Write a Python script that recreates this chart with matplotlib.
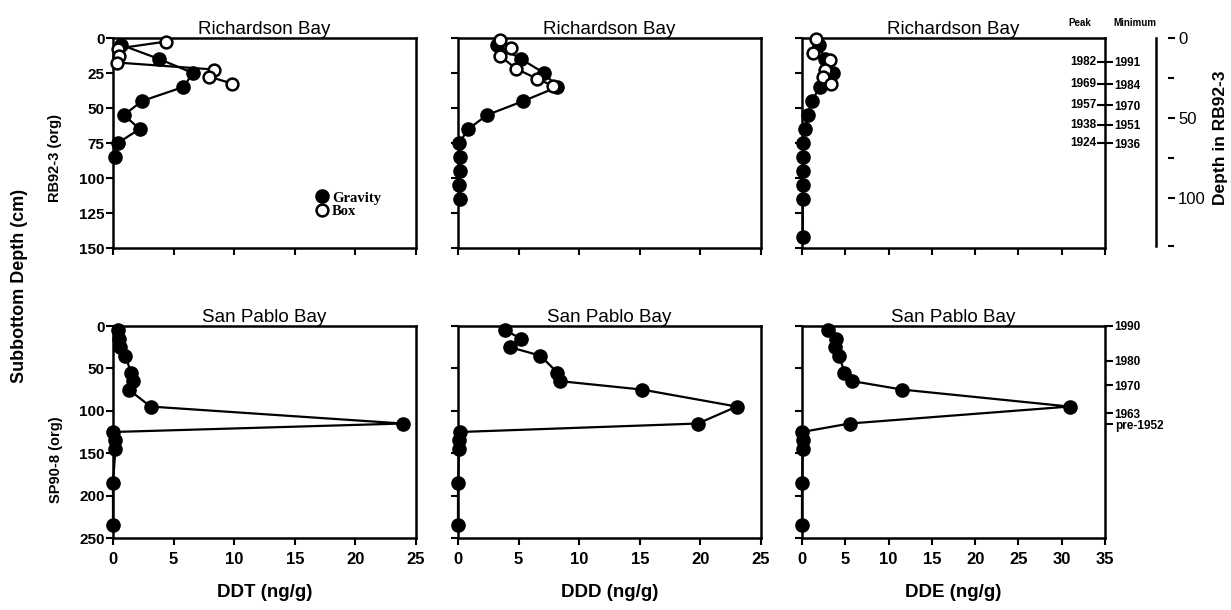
import matplotlib
matplotlib.use('Agg')
import matplotlib.pyplot as plt
from matplotlib.lines import Line2D

plt.rcParams['font.family'] = ['Liberation Sans', 'DejaVu Sans']

# Richardson Bay, core RB92-3 (gravity core, filled) and box core (open)
rb_grav_depth = [5, 15, 25, 35, 45, 55, 65, 75, 85]
rb_grav_ddt = [0.7, 3.8, 6.6, 5.8, 2.4, 0.9, 2.2, 0.4, 0.2]
rb_box_depth = [2.5, 7.5, 12.5, 17.5, 22.5, 27.5, 32.5]
rb_box_ddt = [4.4, 0.4, 0.5, 0.3, 8.3, 7.9, 9.8]

rb_grav_depth_ddd = [5, 15, 25, 35, 45, 55, 65, 75, 85, 95, 105, 115]
rb_grav_ddd = [3.2, 5.2, 7.1, 8.2, 5.4, 2.4, 0.85, 0.1, 0.15, 0.15, 0.1, 0.15]
rb_box_depth_ddd = [1.5, 7, 13, 22, 29, 34]
rb_box_ddd = [3.5, 4.4, 3.5, 4.8, 6.5, 7.8]

rb_grav_depth_dde = [5, 15, 25, 35, 45, 55, 65, 75, 85, 95, 105, 115, 142]
rb_grav_dde = [2.0, 2.6, 3.6, 2.1, 1.1, 0.7, 0.35, 0.1, 0.1, 0.1, 0.1, 0.1, 0.1]
rb_box_depth_dde = [1, 10.5, 16, 22.5, 27.5, 33]
rb_box_dde = [1.6, 1.25, 3.2, 2.6, 2.4, 3.4]

# San Pablo Bay, core SP90-8
sp_depth = [5, 15, 25, 35, 55, 65, 75, 95, 115, 125, 135, 145, 185, 235]
sp_ddt = [0.4, 0.5, 0.6, 1.0, 1.5, 1.65, 1.3, 3.1, 23.9, 0.0, 0.2, 0.2, 0.0, 0.0]
sp_ddd = [3.9, 5.2, 4.3, 6.8, 8.2, 8.4, 15.2, 23.0, 19.8, 0.15, 0.1, 0.1, 0.0, 0.0]
sp_dde = [3.0, 3.9, 3.8, 4.3, 4.9, 5.8, 11.6, 30.9, 5.5, 0.0, 0.1, 0.1, 0.0, 0.0]

# date markers
rb_date_depth = [17, 33, 48, 62, 75]
rb_peak_years = ['1982', '1969', '1957', '1938', '1924']
rb_min_years = ['1991', '1984', '1970', '1951', '1936']
sp_date_depth = [0, 41, 70, 103, 116]
sp_years = ['1990', '1980', '1970', '1963', 'pre-1952']

rb_scale_ticks = [0, 50, 100]

W, H = 1231., 610.
col_left = [113 / W, 458 / W, 802 / W]
col_w = 303 / W
row_bottom = [1 - 248 / H, 1 - 538 / H]
row_h = [210 / H, 212 / H]
xmax = [25, 25, 35]


def style_axes(ax, ylim, yticks, show_ylab, show_xlab, xm):
    ax.set_xlim(0, xm)
    ax.set_ylim(ylim, 0)
    ax.set_yticks(yticks)
    ax.set_xticks(range(0, xm + 1, 5))
    for s in ax.spines.values():
        s.set_linewidth(1.8)
    ax.tick_params(direction='out', length=5, width=1.5, pad=1)
    ax.tick_params(axis='x', pad=5)
    if not show_ylab:
        ax.set_yticklabels([])
    else:
        for t in ax.get_yticklabels():
            t.set_fontweight('bold')
            t.set_fontsize(11)
    if not show_xlab:
        ax.set_xticklabels([])
    else:
        for t in ax.get_xticklabels():
            t.set_fontweight('bold')
            t.set_fontsize(12)


def grav(ax, x, y):
    ax.plot(x, y, color='black', lw=1.6, marker='o', ms=9.5, mfc='black', mec='black', clip_on=False, zorder=3)


def box(ax, x, y):
    ax.plot(x, y, color='black', lw=1.6, marker='o', ms=8.5, mfc='white', mec='black', mew=1.8, clip_on=False,
            zorder=4)


fig = plt.figure(figsize=(12.31, 6.10), dpi=100)

top = [fig.add_axes([col_left[i], row_bottom[0], col_w, row_h[0]]) for i in range(3)]
bot = [fig.add_axes([col_left[i], row_bottom[1], col_w, row_h[1]]) for i in range(3)]

grav(top[0], rb_grav_ddt, rb_grav_depth)
box(top[0], rb_box_ddt, rb_box_depth)
grav(top[1], rb_grav_ddd, rb_grav_depth_ddd)
box(top[1], rb_box_ddd, rb_box_depth_ddd)
grav(top[2], rb_grav_dde, rb_grav_depth_dde)
box(top[2], rb_box_dde, rb_box_depth_dde)

grav(bot[0], sp_ddt, sp_depth)
grav(bot[1], sp_ddd, sp_depth)
grav(bot[2], sp_dde, sp_depth)

for i in range(3):
    style_axes(top[i], 150, range(0, 151, 25), i == 0, False, xmax[i])
    style_axes(bot[i], 250, range(0, 251, 50), i == 0, True, xmax[i])
    top[i].set_title('Richardson Bay', fontsize=13.5, pad=3)
    bot[i].set_title('San Pablo Bay', fontsize=13.5, pad=3)

for ax, lab in zip(bot, ['DDT (ng/g)', 'DDD (ng/g)', 'DDE (ng/g)']):
    ax.set_xlabel(lab, fontsize=13.5, fontweight='bold', labelpad=12)

# legend
handles = [Line2D([], [], ls='none', marker='o', ms=9.5, mfc='black', mec='black'),
           Line2D([], [], ls='none', marker='o', ms=8.5, mfc='white', mec='black', mew=1.8)]
top[0].legend(handles, ['Gravity', 'Box'], loc='upper left', bbox_to_anchor=(0.67, 0.27), frameon=False,
              handlelength=0.8, handletextpad=0.3, labelspacing=0.05, borderpad=0, borderaxespad=0,
              prop={'family': 'Liberation Serif', 'weight': 'bold', 'size': 10.5})

# Richardson Bay date scale on right spine of DDE panel
tw = top[2].twinx()
tw.set_ylim(150, 0)
tw.set_yticks(rb_date_depth)
tw.set_yticklabels(rb_min_years, fontsize=8.5, fontweight='bold')
tw.tick_params(direction='inout', length=12, width=1.5, pad=1)
for s in tw.spines.values():
    s.set_visible(False)
for d, yr in zip(rb_date_depth, rb_peak_years):
    top[2].annotate(yr, xy=(1, d), xycoords=('axes fraction', 'data'), xytext=(-6, 0),
                    textcoords='offset points', ha='right', va='center', fontsize=8.5, fontweight='bold')
fig.text(1080 / W, 1 - 23 / H, 'Peak', fontsize=7, fontweight='bold', ha='center', va='center')
fig.text(1135 / W, 1 - 23 / H, 'Minimum', fontsize=7, fontweight='bold', ha='center', va='center')

# San Pablo Bay date scale
tw2 = bot[2].twinx()
tw2.set_ylim(250, 0)
tw2.set_yticks(sp_date_depth)
tw2.set_yticklabels(sp_years, fontsize=8.5, fontweight='bold')
tw2.tick_params(direction='out', length=6, width=1.5, pad=1)
for s in tw2.spines.values():
    s.set_visible(False)

# depth in RB92-3 scale
sc = fig.add_axes([1156 / W, row_bottom[0], 0.01, row_h[0]])
sc.set_ylim(131, 0)
sc.set_xlim(0, 1)
for k in ['top', 'bottom', 'right']:
    sc.spines[k].set_visible(False)
sc.spines['left'].set_bounds(0, 130)
sc.spines['left'].set_linewidth(1.8)
sc.patch.set_visible(False)
sc.set_xticks([])
sc.yaxis.tick_right()
sc.set_yticks(rb_scale_ticks)
sc.set_yticks([25, 75, 130], minor=True)
sc.set_yticklabels([str(v) for v in rb_scale_ticks], fontsize=12)
sc.tick_params(which='major', direction='out', length=5, width=1.5, pad=2)
sc.tick_params(which='minor', direction='out', length=4, width=1.5)
fig.text(1220 / W, 1 - 138 / H, 'Depth in RB92-3', rotation=90, fontsize=12.5, fontweight='bold',
         ha='center', va='center')

fig.text(20 / W, 1 - 286 / H, 'Subbottom Depth (cm)', rotation=90, fontsize=13, fontweight='bold',
         ha='center', va='center')
fig.text(55 / W, 1 - 158 / H, 'RB92-3 (org)', rotation=90, fontsize=10.5, fontweight='bold',
         ha='center', va='center')
fig.text(56 / W, 1 - 460 / H, 'SP90-8 (org)', rotation=90, fontsize=10.5, fontweight='bold',
         ha='center', va='center')

plt.savefig('out.png', dpi=100)
